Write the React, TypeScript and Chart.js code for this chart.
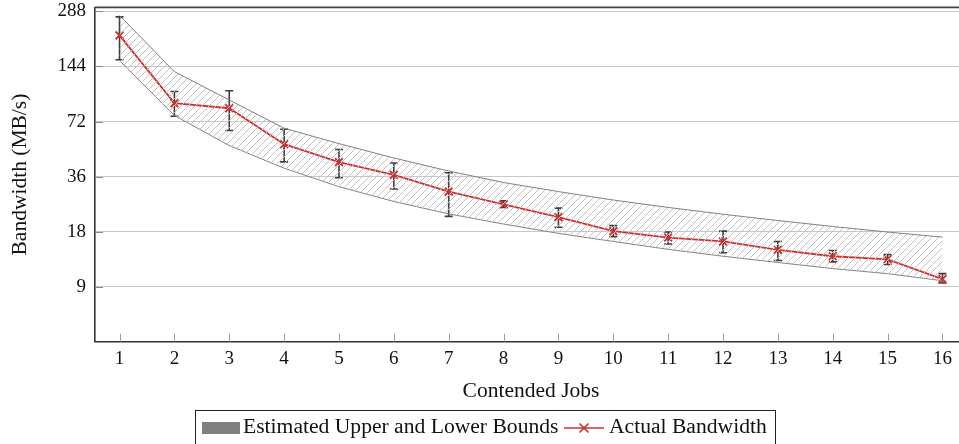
import React, { useEffect, useRef } from "react";
import { Chart, registerables } from "chart.js";

Chart.register(...registerables);

const jobs = [1, 2, 3, 4, 5, 6, 7, 8, 9, 10, 11, 12, 13, 14, 15, 16];
const actualBandwidth = [213, 90.7, 85.1, 54.1, 43.2, 36.8, 29.8, 25.4, 21.6, 18.1, 16.7, 15.9, 14.3, 13.2, 12.7, 9.9];
const errorLow = [156.7, 77, 64.3, 43.3, 35.5, 30.8, 21.8, 24.4, 19.0, 16.9, 15.4, 13.8, 12.5, 12.3, 11.9, 9.43];
const errorHigh = [269, 105, 106, 65.3, 50.6, 42.7, 37.8, 26.5, 24.2, 19.4, 17.9, 18.1, 15.9, 14.2, 13.5, 10.6];
const upperBound = [274, 135, 94.4, 66.2, 54.5, 45.5, 38.6, 33.4, 29.8, 26.8, 24.4, 22.4, 20.7, 19.2, 17.9, 16.8];
const lowerBound = [155, 77.7, 53.2, 40, 31.7, 26.3, 22.5, 19.8, 17.6, 15.9, 14.4, 13.2, 12.2, 11.3, 10.6, 9.7];
const yTickValues = [9, 18, 36, 72, 144, 288];

const SERIF = "'Liberation Serif', 'DejaVu Serif', 'Times New Roman', serif";
const RED = "#cf3030";

export default function App() {
  const ref = useRef<HTMLCanvasElement>(null);

  useEffect(() => {
    const canvas = ref.current;
    if (!canvas) return;

    const pc = document.createElement("canvas");
    pc.width = 7;
    pc.height = 7;
    const p = pc.getContext("2d")!;
    p.strokeStyle = "#c2c2c2";
    p.lineWidth = 1;
    p.beginPath();
    p.moveTo(0, 7);
    p.lineTo(7, 0);
    p.moveTo(-1, 1);
    p.lineTo(1, -1);
    p.moveTo(6, 8);
    p.lineTo(8, 6);
    p.stroke();
    const pattern = canvas.getContext("2d")!.createPattern(pc, "repeat");

    const errorBarPlugin = {
      id: "errorBars",
      beforeDatasetDraw(chart: any, args: any) {
        if (args.index !== 2) return;
        const ctx = chart.ctx;
        const xs = chart.scales.x;
        const ys = chart.scales.y;
        ctx.save();
        ctx.strokeStyle = "#3d3d3d";
        ctx.lineWidth = 1.6;
        jobs.forEach((j, i) => {
          const x = xs.getPixelForValue(j);
          const y1 = ys.getPixelForValue(errorHigh[i]);
          const y2 = ys.getPixelForValue(errorLow[i]);
          ctx.beginPath();
          ctx.moveTo(x, y1);
          ctx.lineTo(x, y2);
          ctx.moveTo(x - 4, y1);
          ctx.lineTo(x + 4, y1);
          ctx.moveTo(x - 4, y2);
          ctx.lineTo(x + 4, y2);
          ctx.stroke();
        });
        ctx.restore();
      },
    };

    const framePlugin = {
      id: "frame",
      afterDraw(chart: any) {
        const ctx = chart.ctx;
        const { left, right, top, bottom } = chart.chartArea;
        const xs = chart.scales.x;
        const ys = chart.scales.y;
        ctx.save();
        ctx.lineWidth = 1;
        ctx.strokeStyle = "#9a9a9a";
        jobs.forEach((j) => {
          const x = Math.round(xs.getPixelForValue(j)) + 0.5;
          ctx.beginPath();
          ctx.moveTo(x, bottom);
          ctx.lineTo(x, bottom - 8);
          ctx.stroke();
        });
        ctx.strokeStyle = "#8a8a8a";
        yTickValues.forEach((v) => {
          const y = Math.round(ys.getPixelForValue(v)) + 0.5;
          ctx.beginPath();
          ctx.moveTo(left, y);
          ctx.lineTo(left + 8, y);
          ctx.stroke();
        });
        ctx.strokeStyle = "#444";
        ctx.lineWidth = 1.6;
        ctx.beginPath();
        ctx.moveTo(left, top);
        ctx.lineTo(right, top);
        ctx.stroke();

        // legend
        ctx.strokeStyle = "#222";
        ctx.lineWidth = 1;
        ctx.strokeRect(195.5, 410.5, 580, 50);
        ctx.fillStyle = "#808080";
        ctx.fillRect(202, 422, 38, 12);
        ctx.fillStyle = "#111";
        ctx.font = `21.6px ${SERIF}`;
        ctx.textBaseline = "alphabetic";
        ctx.textAlign = "left";
        ctx.fillText("Estimated Upper and Lower Bounds", 243, 433);
        ctx.strokeStyle = RED;
        ctx.lineWidth = 1.6;
        ctx.beginPath();
        ctx.moveTo(564, 428);
        ctx.lineTo(604, 428);
        ctx.moveTo(579.5, 423.5);
        ctx.lineTo(588.5, 432.5);
        ctx.moveTo(588.5, 423.5);
        ctx.lineTo(579.5, 432.5);
        ctx.stroke();
        ctx.fillText("Actual Bandwidth", 609, 433);
        ctx.restore();
      },
    };

    const chart = new Chart(canvas, {
      type: "line",
      data: {
        datasets: [
          {
            label: "Upper",
            data: jobs.map((j, i) => ({ x: j, y: upperBound[i] })),
            borderColor: "#808080",
            borderWidth: 1,
            pointRadius: 0,
            fill: "+1",
            backgroundColor: pattern as any,
            tension: 0,
          },
          {
            label: "Lower",
            data: jobs.map((j, i) => ({ x: j, y: lowerBound[i] })),
            borderColor: "#808080",
            borderWidth: 1,
            pointRadius: 0,
            fill: false,
            tension: 0,
          },
          {
            label: "Actual Bandwidth",
            data: jobs.map((j, i) => ({ x: j, y: actualBandwidth[i] })),
            borderColor: RED,
            borderWidth: 1.8,
            pointStyle: "crossRot",
            pointRadius: 5.5,
            pointBorderWidth: 1.9,
            pointBorderColor: RED,
            pointBackgroundColor: RED,
            fill: false,
            tension: 0,
          },
        ],
      },
      options: {
        animation: false,
        responsive: false,
        maintainAspectRatio: false,
        events: [],
        layout: { padding: { left: 0, top: 7, right: 13, bottom: 42.3 } },
        plugins: {
          legend: { display: false },
          tooltip: { enabled: false },
        },
        scales: {
          x: {
            type: "linear",
            min: 0.553,
            max: 16.447,
            afterBuildTicks: (scale: any) => {
              scale.ticks = jobs.map((v) => ({ value: v }));
            },
            afterFit: (scale: any) => {
              scale.height = 60;
              scale.paddingLeft = 0;
              scale.paddingRight = 0;
            },
            grid: { display: false, drawTicks: false },
            border: { display: true, color: "#333", width: 1.6 },
            ticks: {
              padding: 6,
              autoSkip: false,
              maxRotation: 0,
              color: "#111",
              font: { family: SERIF, size: 19 },
              callback: (v: any) => String(v),
            },
            title: {
              display: true,
              text: "Contended Jobs",
              color: "#111",
              font: { family: SERIF, size: 21.5, lineHeight: 1 },
              padding: 0,
            },
          },
          y: {
            type: "logarithmic",
            min: 4.5,
            max: 303,
            afterBuildTicks: (scale: any) => {
              scale.ticks = yTickValues.map((v) => ({ value: v }));
            },
            afterFit: (scale: any) => {
              scale.width = 95;
              scale.paddingTop = 0;
              scale.paddingBottom = 0;
            },
            grid: { color: "#c8c8c8", lineWidth: 1, drawTicks: false },
            border: { display: true, color: "#333", width: 1.6 },
            ticks: {
              padding: 9,
              color: "#111",
              font: { family: SERIF, size: 19 },
              callback: (v: any) => String(v),
            },
            title: {
              display: true,
              text: "Bandwidth (MB/s)",
              color: "#111",
              font: { family: SERIF, size: 21.5, lineHeight: 1.2 },
              padding: { top: 7, bottom: 0 },
            },
          },
        },
      },
      plugins: [errorBarPlugin, framePlugin],
    } as any);

    return () => {
      chart.destroy();
    };
  }, []);

  return (
    <div style={{ position: "fixed", left: 0, top: 0, width: 959, height: 444, overflow: "hidden", background: "#fff" }}>
      <div style={{ position: "absolute", left: 0, top: 0, width: 980, height: 444 }}>
        <canvas ref={ref} width={980} height={444} style={{ display: "block", width: 980, height: 444 }} />
      </div>
    </div>
  );
}
